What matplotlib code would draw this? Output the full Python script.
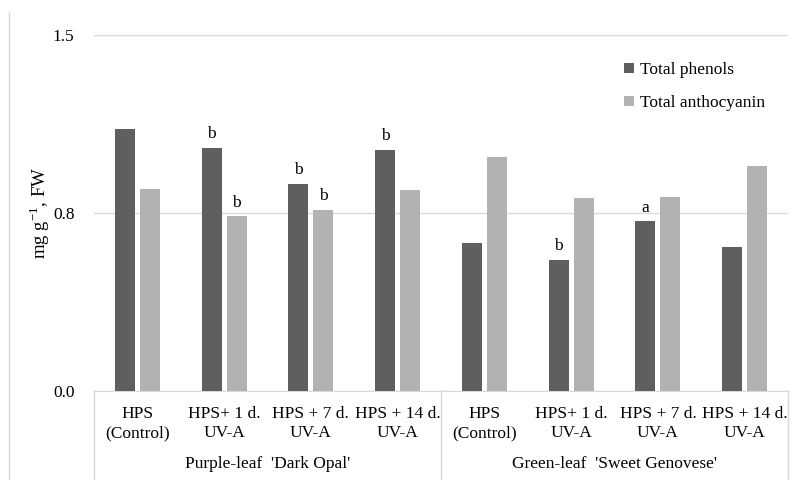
import numpy as np
import matplotlib
matplotlib.use("Agg")
import matplotlib.pyplot as plt
from matplotlib.lines import Line2D

plt.rcParams['font.family'] = ['Liberation Serif', 'DejaVu Serif']
plt.rcParams['mathtext.fontset'] = 'custom'
plt.rcParams['mathtext.rm'] = 'Liberation Serif'

# treatments (two lines each) and cultivars
treatments = ["HPS\n(Control)", "HPS+ 1 d.\nUV-A", "HPS + 7 d.\nUV-A", "HPS + 14 d.\nUV-A",
              "HPS\n(Control)", "HPS+ 1 d.\nUV-A", "HPS + 7 d.\nUV-A", "HPS + 14 d.\nUV-A"]
cultivars = ["Purple-leaf  'Dark Opal'", "Green-leaf  'Sweet Genovese'"]

# values, mg g-1 FW
phenols = [1.104, 1.024, 0.872, 1.016, 0.624, 0.552, 0.716, 0.607]
anthocyanin = [0.851, 0.737, 0.763, 0.847, 0.986, 0.813, 0.817, 0.948]

# significance letters ('' = none)
phen_letters = ["", "b", "b", "b", "", "b", "a", ""]
anth_letters = ["", "b", "b", "", "", "", "", ""]

yticks = [0.0, 0.75, 1.5]
ytick_labels = ["0.0", "0.8", "1.5"]

dark = "#5f5f5f"
light = "#b2b2b2"
fs = 12.5

fig = plt.figure(figsize=(7.99, 4.8), dpi=100)
ax = fig.add_axes([94/799, 89/480, 694/799, 356/480])

x = np.arange(len(treatments))
w = 0.23
off = 0.145
b1 = ax.bar(x - off, phenols, w, color=dark, label="Total phenols", zorder=3)
b2 = ax.bar(x + off, anthocyanin, w, color=light, label="Total anthocyanin", zorder=3)

# letters above bars
for xi, v, t in zip(x - off, phenols, phen_letters):
    if t:
        ax.annotate(t, (xi, v), xytext=(0, 4), textcoords="offset points",
                    ha="center", va="bottom", fontsize=fs)
for xi, v, t in zip(x + off, anthocyanin, anth_letters):
    if t:
        ax.annotate(t, (xi, v), xytext=(0, 4), textcoords="offset points",
                    ha="center", va="bottom", fontsize=fs)

ax.set_xlim(-0.5, len(treatments) - 0.5)
ax.set_ylim(0, 1.5)
ax.set_yticks(yticks)
ax.set_yticklabels(ytick_labels, fontsize=fs)
ax.tick_params(axis="y", length=0, pad=14)
ax.set_xticks([])
ax.grid(axis="y", color="#d9d9d9", linewidth=1, zorder=0)
for s in ["top", "right", "left"]:
    ax.spines[s].set_visible(False)
ax.spines["bottom"].set_color("#d9d9d9")

ax.set_ylabel(r"mg g$^{\mathrm{-1}}$, FW", fontsize=13.5)
ax.yaxis.set_label_coords(-42/694, 0.5)

# two level category axis
tr = ax.get_xaxis_transform()
for xi, lab in zip(x, treatments):
    ax.text(xi, -0.091, lab, transform=tr, ha="center", va="center",
            fontsize=fs, linespacing=1.3)
n = len(treatments) // len(cultivars)
for i, c in enumerate(cultivars):
    ax.text(i * n + (n - 1) / 2, -0.205, c, transform=tr, ha="center", va="center", fontsize=fs)
for xb in [-0.5, n - 0.5, len(treatments) - 0.5]:
    ax.add_line(Line2D([xb, xb], [0, -0.26], transform=tr, color="#d9d9d9",
                       linewidth=1, clip_on=False))

ax.legend(handles=[b1, b2], loc="upper left", bbox_to_anchor=(624/799, 1 - 62/480),
          bbox_transform=fig.transFigure, frameon=False, fontsize=fs,
          handlelength=0.55, handleheight=0.55, handletextpad=0.35, labelspacing=1.0,
          borderpad=0, borderaxespad=0)

# chart border on the left
fig.add_artist(Line2D([9/799, 9/799], [0, 1 - 12/480], color="#d9d9d9", linewidth=1))

fig.savefig("out.png", dpi=100)
